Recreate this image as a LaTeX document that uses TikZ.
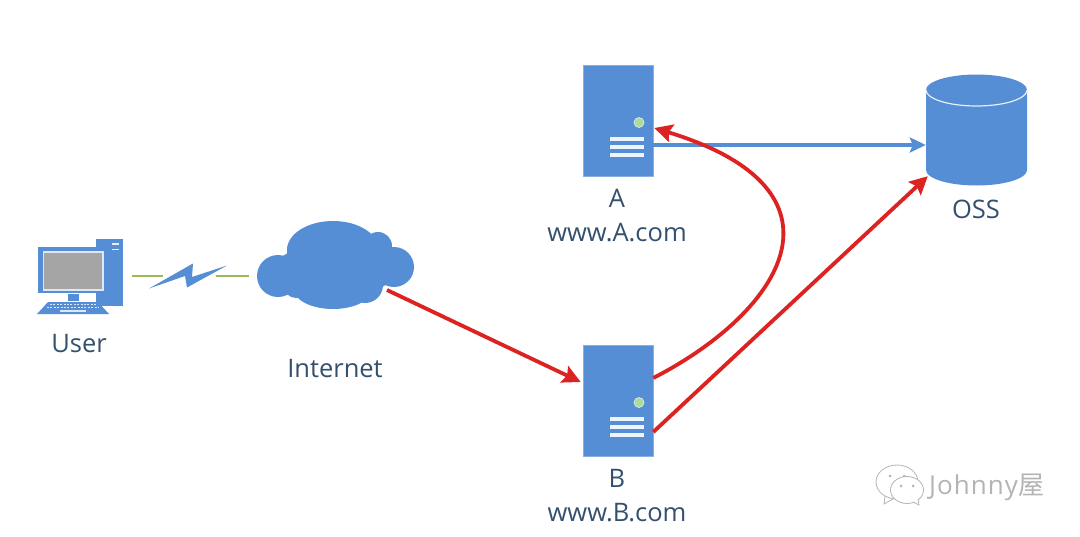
\documentclass[tikz,border=0pt]{standalone}
\usepackage{fontspec}
\setmainfont{Open Sans}
\newfontfamily\cjkwm{Noto Sans CJK SC}
\usetikzlibrary{arrows.meta,calc,shapes.geometric}
\definecolor{iconblue}{HTML}{558ED5}
\definecolor{labelblue}{HTML}{34506F}
\definecolor{arrowred}{HTML}{DD2222}
\definecolor{linkgreen}{HTML}{9BBB59}
\definecolor{screengray}{HTML}{A5A5A5}
\definecolor{wmgray}{HTML}{B4B4B4}
\definecolor{dotgreen}{HTML}{A9DB9B}
\tikzset{
  x=1pt,y=-1pt,
  serverbox/.style={rectangle,fill=iconblue,draw=iconblue!70!white,line width=.6pt,minimum width=70pt,minimum height=111pt,inner sep=0pt},
  dblabel/.style={text=labelblue,font=\fontsize{25.5}{34}\selectfont,align=center,inner sep=0pt},
  redarrow/.style={draw=arrowred,line width=3.8pt,-{Stealth[length=18pt,width=18pt,inset=3pt]}},
  bluearrow/.style={draw=iconblue,line width=3.2pt,-{Stealth[length=16pt,width=15pt,inset=3pt]}},
  greenlink/.style={draw=linkgreen,line width=1.3pt},
  wmline/.style={draw=wmgray,line width=.8pt},
}
\newcommand{\serverparts}[1]{%
  \fill[dotgreen,draw=white!80!iconblue,line width=.7pt] ($(#1.center)+(21,2)$) circle (5);
  \draw[white!90!iconblue,line width=3.4pt] ($(#1.center)+(-8,18.5)$) -- ++(34,0);
  \draw[white!90!iconblue,line width=3.4pt] ($(#1.center)+(-8,26.5)$) -- ++(34,0);
  \draw[white!90!iconblue,line width=3.4pt] ($(#1.center)+(-8,34.5)$) -- ++(34,0);
}
\begin{document}
\begin{tikzpicture}
\useasboundingbox (0,0) rectangle (1080,536);
\fill[white] (0,0) rectangle (1080,536);

% computer
\fill[iconblue] (96,239) rectangle (123,306);
\draw[white!85!iconblue,line width=1.8pt] (112,244) -- (119,244) (112,249.5) -- (119,249.5);
\node[rectangle,fill=iconblue,minimum width=70pt,minimum height=46pt,inner sep=0pt] (pc) at (72.5,270) {};
\draw[white!80!iconblue,line width=1.4pt,fill=screengray] (43.5,252) rectangle (103,290);
\fill[iconblue] (68,294) rectangle (78.5,301);
\fill[iconblue] (37,314) -- (48,302) -- (98,302) -- (109,314) -- cycle;
\foreach \r/\a/\b in {304.5/50/96,307.5/47/99}
  \draw[white!80!iconblue,line width=1.5pt,dash pattern=on 2pt off 1.4pt] (\a,\r) -- (\b,\r);
\draw[white!80!iconblue,line width=1.4pt] (60,311) -- (86,311);
\node[dblabel] (user) at (79,344) {User};

% lightning link
\coordinate (linkL) at (132,276);
\coordinate (linkLe) at (163,276);
\coordinate (linkRs) at (216,276);
\coordinate (linkR) at (249,276);
\draw[greenlink] (linkL) -- (linkLe);
\draw[greenlink] (linkRs) -- (linkR);
\fill[iconblue] (149,288.5) -- (193,263.5) -- (192,277) -- (227,265.5) -- (187,287.5) -- (185,276) -- cycle;

% cloud
\fill[iconblue]
  (278,276) circle (21)
  (333,250) ellipse [x radius=46,y radius=29]
  (318,254) circle (26)
  (352,252) circle (26)
  (333,288) ellipse [x radius=40,y radius=21]
  (394,267) circle (20)
  (378,246) circle (14)
  (300,262) circle (15)
  (296,286) circle (12)
  (365,285) circle (18)
  (335,270) ellipse [x radius=62,y radius=26];
\node[inner sep=0pt,minimum width=156pt,minimum height=90pt] (cloud) at (336,266) {};
\node[dblabel] (internet) at (335,369) {Internet};

% servers
\node[serverbox] (srvA) at (618,120.5) {};
\serverparts{srvA}
\node[dblabel,anchor=center] (labA) at (617,216) {A\\www.A.com};
\node[serverbox] (srvB) at (618,400.5) {};
\serverparts{srvB}
\node[dblabel,anchor=center] (labB) at (617,496) {B\\www.B.com};

% database
\fill[iconblue] (926,90) -- (926,170) arc[start angle=180,end angle=0,x radius=50.5,y radius=15.5] -- (1027,90) arc[start angle=0,end angle=-180,x radius=50.5,y radius=15.5] -- cycle;
\draw[white!85!iconblue,line width=1.2pt] (926,90) arc[start angle=180,end angle=0,x radius=50.5,y radius=16];
\node[inner sep=0pt,minimum width=101pt,minimum height=110pt] (oss) at (976.5,130) {};
\node[dblabel] (ossl) at (976,209) {OSS};

% connectors
\coordinate (aOut) at ($(srvA.east)+(0,24.5)$);
\coordinate (ossIn) at ($(oss.west)+(0,15)$);
\draw[bluearrow] (aOut) -- (ossIn);
\coordinate (cloudOut) at (387,290);
\coordinate (bIn) at ($(srvB.west)+(-2,-18.5)$);
\draw[redarrow] (cloudOut) -- (bIn);
\coordinate (bTop) at ($(srvB.east)+(0,-22.5)$);
\coordinate (aIn) at ($(srvA.east)+(1,7.5)$);
\draw[redarrow] (bTop) .. controls (785,310) and (858,190) .. (aIn);
\coordinate (bLow) at ($(srvB.east)+(0,31.5)$);
\coordinate (ossLow) at ($(oss.south west)+(2,-9)$);
\draw[redarrow] (bLow) -- (ossLow);

% watermark
\draw[wmline,fill=white] (897,482) ellipse [x radius=21,y radius=17];
\draw[wmline] (885,496) -- (884,504) -- (893,499);
\fill[wmgray] (890,476) circle (1.5) (904,476) circle (1.5);
\draw[wmline,fill=white] (907,490) ellipse [x radius=16.5,y radius=13.5];
\draw[wmline,fill=white] (913,502) -- (919,505) -- (918,499);
\fill[wmgray] (901,486) circle (1.5) (913,486) circle (1.5);
\node[text=wmgray,font=\fontsize{26}{28}\selectfont\addfontfeatures{LetterSpace=4},inner sep=0pt,anchor=west] (wm) at (929,487) {Johnny{\cjkwm 屋}};
\end{tikzpicture}
\end{document}
